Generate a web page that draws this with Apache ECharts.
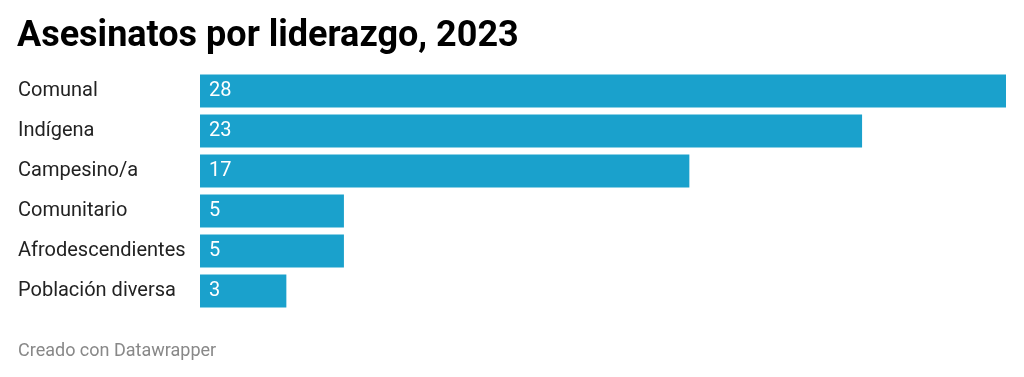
<!DOCTYPE html>
<html>
<head>
<meta charset="utf-8">
<script src="https://cdn.jsdelivr.net/npm/echarts@6/dist/echarts.min.js"></script>
<style>
  html, body { margin: 0; padding: 0; background: #fff; }
  #main { width: 1024px; height: 377px; }
</style>
</head>
<body>
<div id="main"></div>
<script>
// datos
var categorias = ['Comunal', 'Indígena', 'Campesino/a', 'Comunitario', 'Afrodescendientes', 'Población diversa'];
var asesinatos = [28, 23, 17, 5, 5, 3];

var myChart = echarts.init(document.getElementById('main'));
var option = {
    animation: false,
    textStyle: { fontFamily: 'Roboto' },
    title: [
        {
            text: 'Asesinatos por liderazgo, 2023',
            left: 17, top: 19, padding: 0,
            textStyle: { fontFamily: 'Roboto', fontWeight: 'bold', fontSize: 36, color: '#000' }
        },
        {
            text: 'Creado con Datawrapper',
            left: 18, top: 342, padding: 0,
            textStyle: { fontFamily: 'Roboto', fontWeight: 'normal', fontSize: 18, color: '#888' }
        }
    ],
    grid: { left: 200, right: 18, top: 71, height: 240 },
    xAxis: {
        type: 'value',
        min: 0,
        max: 28,
        show: false
    },
    yAxis: {
        type: 'category',
        inverse: true,
        data: categorias,
        axisLine: { show: false },
        axisTick: { show: false },
        axisLabel: {
            align: 'left',
            margin: 182,
            padding: [2, 0, 0, 0],
            fontFamily: 'Roboto',
            fontSize: 20,
            color: '#222'
        }
    },
    series: [
        {
            type: 'bar',
            data: asesinatos,
            barWidth: 33,
            itemStyle: { color: '#1aa1cc' },
            label: {
                show: true,
                position: 'insideLeft',
                distance: 9,
                padding: [2, 0, 0, 0],
                color: '#fff',
                fontFamily: 'Roboto',
                fontSize: 20
            }
        }
    ]
};
option && myChart.setOption(option);
</script>
</body>
</html>
